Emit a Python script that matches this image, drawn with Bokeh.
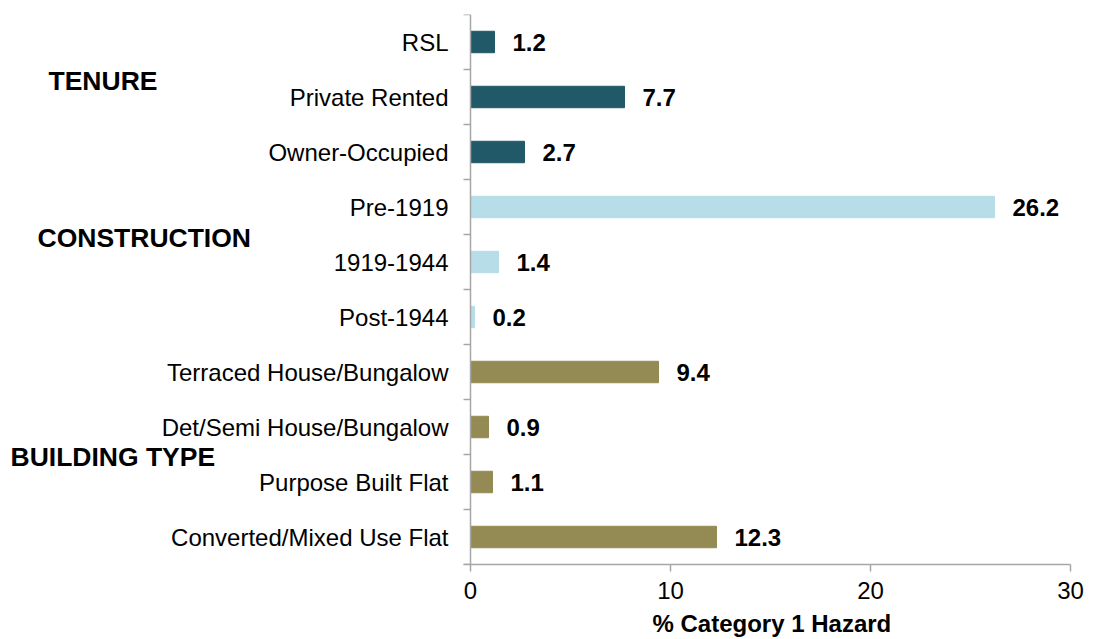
import math
from bokeh.plotting import figure
from bokeh.models import Range1d, FixedTicker, Label, ColumnDataSource, Span, Title
from bokeh.core.properties import value
from bokeh.embed import file_html
from bokeh.resources import INLINE

# ---- data ----
categories = ["RSL", "Private Rented", "Owner-Occupied",
              "Pre-1919", "1919-1944", "Post-1944",
              "Terraced House/Bungalow", "Det/Semi House/Bungalow",
              "Purpose Built Flat", "Converted/Mixed Use Flat"]
values = [1.2, 7.7, 2.7, 26.2, 1.4, 0.2, 9.4, 0.9, 1.1, 12.3]
groups = ["TENURE"] * 3 + ["CONSTRUCTION"] * 3 + ["BUILDING TYPE"] * 4
group_names = ["TENURE", "CONSTRUCTION", "BUILDING TYPE"]
group_colors = {"TENURE": "#215968", "CONSTRUCTION": "#B6DDE8", "BUILDING TYPE": "#948A54"}
x_ticks = [0, 10, 20, 30]
x_title = "% Category 1 Hazard"

FONT = "Liberation Sans"
AXIS_GREY = "#A6A6A6"

n = len(categories)
pos = list(range(n))
src = ColumnDataSource(dict(
    y=pos,
    v=values,
    zero=[0] * n,
    cat=categories,
    lab=[f"{v:.1f}" for v in values],
    color=[group_colors[g] for g in groups],
))
bounds_src = ColumnDataSource(dict(y=[i - 0.5 for i in range(n + 1)], x=[0] * (n + 1)))

# frame spans the whole width; the left part (negative x) holds the category and group labels
p = figure(frame_width=1070, frame_height=550,
           x_range=Range1d(-23.5, 30), y_range=Range1d(n - 0.5, -0.5),
           output_backend="svg", toolbar_location=None,
           min_border_left=0, min_border_right=20, min_border_top=14,
           min_border_bottom=0)
p.outline_line_color = None
p.xgrid.visible = False
p.ygrid.visible = False
p.yaxis.visible = False
p.background_fill_color = "white"
p.border_fill_color = "white"

# bars and value labels
p.hbar(y="y", right="v", left=0, height=0.39, color="color", source=src)
p.text(x="v", y="y", text="lab", source=src, x_offset=18,
       text_align="left", text_baseline="middle",
       text_font=value(FONT), text_font_style="bold",
       text_font_size="24px", text_color="black")

# category axis (line, boundary ticks, labels)
p.add_layout(Span(location=0, dimension="height", line_color=AXIS_GREY, line_width=1.5))
p.ray(x="x", y="y", source=bounds_src, length=7, length_units="screen", angle=math.pi,
      line_color=AXIS_GREY, line_width=1.5)
p.text(x="zero", y="y", text="cat", source=src, x_offset=-22,
       text_align="right", text_baseline="middle",
       text_font=value(FONT), text_font_size="24px", text_color="black")

# x axis
xa = p.xaxis[0]
xa.ticker = FixedTicker(ticks=x_ticks, minor_ticks=[])
xa.bounds = (-0.35, 30)
xa.major_tick_out = 7
xa.major_tick_in = 0
xa.major_tick_line_color = AXIS_GREY
xa.major_tick_line_width = 1.5
xa.axis_line_color = AXIS_GREY
xa.axis_line_width = 1.5
xa.major_label_standoff = 10
xa.major_label_text_font = FONT
xa.major_label_text_font_size = "24px"
xa.major_label_text_color = "black"

# x-axis title, centred under the data area (0..30)
p.add_layout(Title(text=x_title, align="left", offset=652, standoff=12,
                   text_font=FONT, text_font_style="bold", text_font_size="24px",
                   text_color="black"), "below")

# group labels
group_x = [-21.1, -21.65, -23.0]
group_y = [0.7, 3.57, 7.55]
for name, gx, gy in zip(group_names, group_x, group_y):
    p.add_layout(Label(x=gx, y=gy, text=name,
                       text_font=FONT, text_font_style="bold", text_font_size="26.5px",
                       text_color="black", text_align="left", text_baseline="middle"))

open("out.html", "w").write(file_html(p, INLINE))
